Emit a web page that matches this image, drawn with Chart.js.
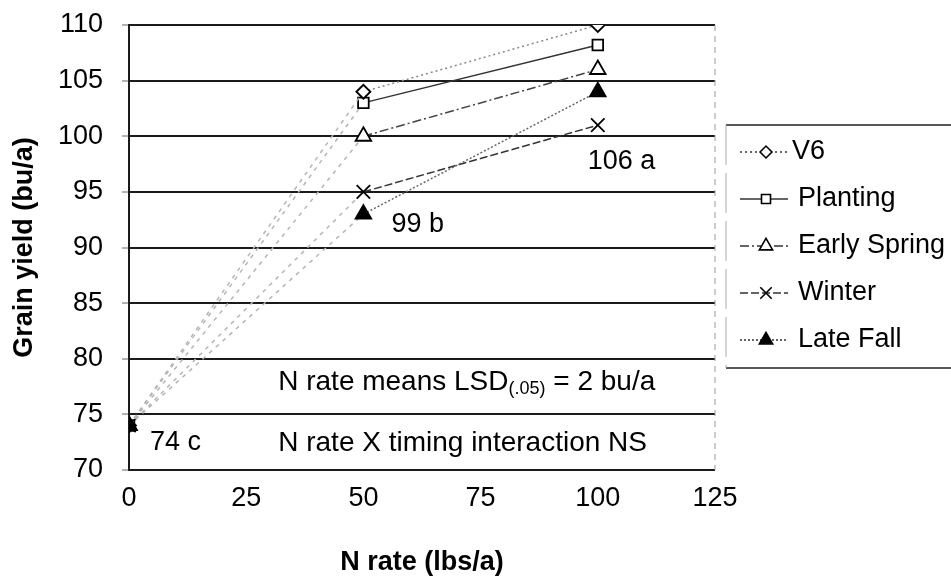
<!DOCTYPE html>
<html>
<head>
<meta charset="utf-8">
<script src="https://cdn.jsdelivr.net/npm/chart.js@4.4.1/dist/chart.umd.min.js"></script>
<style>
  html, body { margin: 0; padding: 0; background: #fff; }
  #wrap { width: 951px; height: 577px; }
</style>
</head>
<body>
<div id="wrap"><canvas id="yieldChart" width="951" height="577"></canvas></div>
<script>
// ===== data =====
const nRates = [0, 50, 100];
const seriesNames = ["V6", "Planting", "Early Spring", "Winter", "Late Fall"];
const v6 = [74, 104, 110];
const planting = [74, 103, 108.2];
const earlySpring = [74, 100, 106];
const winter = [74, 95, 101];
const lateFall = [74, 93, 104];
const meanLabels = ["74 c", "99 b", "106 a"];
const meanAt = [[0, 74], [50, 95], [100, 101]];
const noteLines = ["N rate means LSD", "N rate X timing interaction NS"];

const FONT = "'Liberation Sans', Arial, sans-serif";

const styles = [
    { pointStyle: "rectRot", radius: 7, fill: "#fff", line: "#888", dash: [2, 3] },
    { pointStyle: "rect", radius: 7.5, fill: "#fff", line: "#333", dash: [] },
    { pointStyle: "triangle", radius: 9, fill: "#fff", line: "#444", dash: [9, 3, 2, 3] },
    { pointStyle: "crossRot", radius: 9.5, fill: "#fff", line: "#333", dash: [8, 3] },
    { pointStyle: "triangle", radius: 9, fill: "#000", line: "#666", dash: [2, 2] }
];
const allSeries = [v6, planting, earlySpring, winter, lateFall];

const datasets = allSeries.map(function (vals, i) {
    const s = styles[i];
    return {
        label: seriesNames[i],
        data: nRates.map(function (x, j) { return { x: x, y: vals[j] }; }),
        order: i === 4 ? -1 : 0, // filled triangle sits on top at the 0 N check
        borderColor: s.line,
        borderWidth: 1.5,
        borderDash: s.dash,
        segment: {
            // the lines out of the 0 N check are faint in the original
            borderColor: function (c) { return c.p0DataIndex === 0 ? "#b5b5b5" : undefined; },
            borderDash: function (c) { return c.p0DataIndex === 0 ? [4, 5] : undefined; }
        },
        pointStyle: s.pointStyle,
        pointRadius: s.radius,
        pointBackgroundColor: s.fill,
        pointBorderColor: "#000",
        pointBorderWidth: 1.8,
        fill: false,
        tension: 0
    };
});

// ===== extras: right border, notes, legend =====
const extras = {
    id: "extras",
    afterDraw: function (chart) {
        const ctx = chart.ctx;
        const xs = chart.scales.x, ys = chart.scales.y;
        const area = chart.chartArea;
        ctx.save();

        // dashed right edge of plot area
        ctx.strokeStyle = "#999";
        ctx.lineWidth = 1;
        ctx.setLineDash([6, 5]);
        ctx.beginPath();
        ctx.moveTo(area.right, area.top);
        ctx.lineTo(area.right, area.bottom);
        ctx.stroke();
        ctx.setLineDash([]);

        // mean letters
        ctx.fillStyle = "#000";
        ctx.font = "27px " + FONT;
        ctx.textBaseline = "middle";
        ctx.textAlign = "left";
        const offs = [[21, 17], [28, 33], [-10, 36]];
        meanLabels.forEach(function (t, i) {
            const px = xs.getPixelForValue(meanAt[i][0]) + offs[i][0];
            const py = ys.getPixelForValue(meanAt[i][1]) + offs[i][1];
            ctx.fillText(t, px, py);
        });

        // notes
        const noteX = xs.getPixelForValue(25) + 32;
        let nx = noteX;
        let ny = ys.getPixelForValue(77.9);
        ctx.font = "28px " + FONT;
        ctx.fillText(noteLines[0], nx, ny);
        nx += ctx.measureText(noteLines[0]).width;
        ctx.font = "18px " + FONT;
        ctx.fillText("(.05)", nx, ny + 7);
        nx += ctx.measureText("(.05)").width;
        ctx.font = "28px " + FONT;
        ctx.fillText(" = 2 bu/a", nx, ny);
        ctx.fillText(noteLines[1], noteX, ys.getPixelForValue(72.4));

        // legend box
        const lx = area.right + 11, lTop = 125, lBot = 368;
        ctx.strokeStyle = "#222";
        ctx.lineWidth = 1.6;
        ctx.beginPath();
        ctx.moveTo(lx, lTop); ctx.lineTo(951, lTop);
        ctx.moveTo(lx, lBot); ctx.lineTo(951, lBot);
        ctx.stroke();
        ctx.strokeStyle = "#aaa";
        ctx.lineWidth = 1;
        ctx.setLineDash([40, 8]);
        ctx.beginPath();
        ctx.moveTo(lx, lTop); ctx.lineTo(lx, lBot);
        ctx.stroke();
        ctx.setLineDash([]);

        chart.data.datasets.forEach(function (ds, i) {
            const cy = 152 + i * 47;
            ctx.strokeStyle = "#333";
            ctx.lineWidth = 1.3;
            ctx.setLineDash(ds.borderDash);
            ctx.beginPath();
            ctx.moveTo(lx + 14, cy); ctx.lineTo(lx + 62, cy);
            ctx.stroke();
            ctx.setLineDash([]);
            ctx.fillStyle = ds.pointBackgroundColor;
            ctx.strokeStyle = "#000";
            ctx.lineWidth = 1.6;
            Chart.helpers.drawPoint(ctx, {
                pointStyle: ds.pointStyle,
                radius: ds.pointRadius * 0.85,
                rotation: 0,
                borderWidth: 1.6
            }, lx + 40, cy);
            ctx.fillStyle = "#000";
            ctx.font = "27px " + FONT;
            ctx.textAlign = "left";
            ctx.fillText(ds.label, lx + (i === 0 ? 66 : 72), cy);
        });

        ctx.restore();
    }
};

new Chart(document.getElementById("yieldChart").getContext("2d"), {
    type: "line",
    data: { datasets: datasets },
    plugins: [extras],
    options: {
        responsive: false,
        animation: false,
        layout: { padding: { top: 25, right: 236, bottom: 0, left: 0 } },
        plugins: {
            legend: { display: false },
            tooltip: { enabled: false }
        },
        scales: {
            x: {
                type: "linear",
                min: 0,
                max: 125,
                ticks: {
                    stepSize: 25,
                    color: "#000",
                    font: { family: FONT, size: 27 },
                    padding: 12
                },
                grid: { display: false, drawTicks: false },
                border: { display: false },
                title: {
                    display: true,
                    text: "N rate (lbs/a)",
                    color: "#000",
                    font: { family: FONT, size: 27, weight: "bold", lineHeight: 1.1 },
                    padding: { top: 0, bottom: 0 }
                },
                afterFit: function (scale) { scale.height = 107; }
            },
            y: {
                min: 70,
                max: 110,
                ticks: {
                    stepSize: 5,
                    color: "#000",
                    font: { family: FONT, size: 27 },
                    padding: 19
                },
                grid: {
                    color: "#1a1a1a",
                    lineWidth: 2,
                    tickLength: 7,
                    tickColor: "#666",
                    tickWidth: 1
                },
                border: { display: true, color: "#1a1a1a", width: 2 },
                title: {
                    display: true,
                    text: "Grain yield (bu/a)",
                    color: "#000",
                    font: { family: FONT, size: 27, weight: "bold", lineHeight: 1.1 },
                    padding: { top: 10, bottom: 0 }
                },
                afterFit: function (scale) {
                    scale.width = 129;
                    // tick padding would otherwise push the plot top down
                    scale.paddingTop = 0;
                    scale.paddingBottom = 0;
                }
            }
        }
    }
});
</script>
</body>
</html>
